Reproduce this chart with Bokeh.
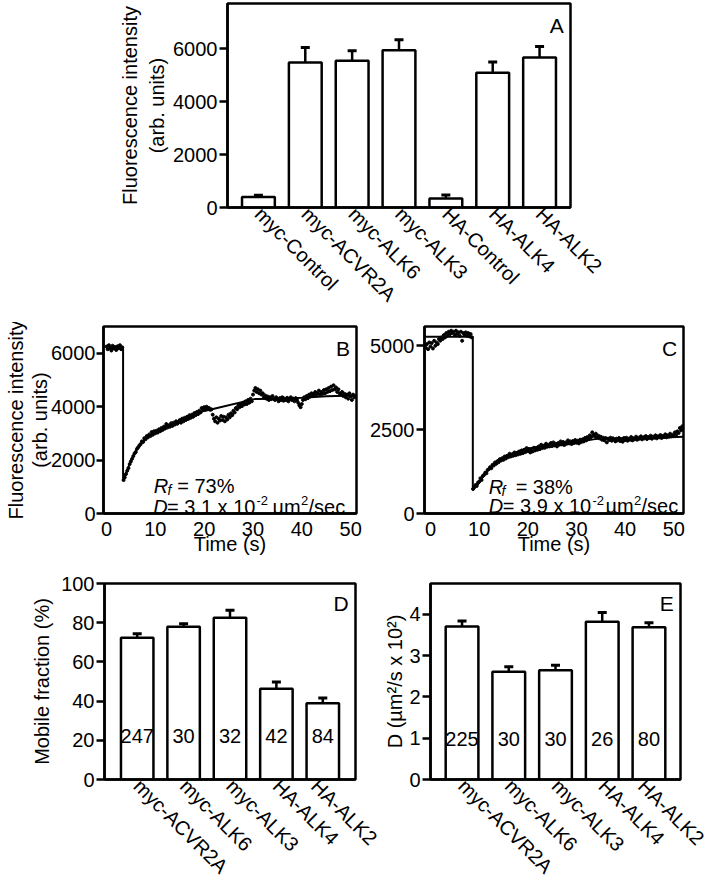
import numpy as np
from bokeh.plotting import figure
from bokeh.models import FactorRange, Range1d, FixedTicker, Label, ColumnDataSource
from bokeh.layouts import column, row
from bokeh.embed import file_html
from bokeh.resources import INLINE

FONT = "Liberation Sans"

# ---------------- Panel A ----------------
a_categories = ["myc-Control", "myc-ACVR2A", "myc-ALK6", "myc-ALK3", "HA-Control", "HA-ALK4", "HA-ALK2"]
a_values = [400, 5470, 5540, 5940, 340, 5090, 5660]
a_errors = [65, 570, 375, 390, 130, 405, 415]
a_yticks = [0, 2000, 4000, 6000]

# ---------------- Panel B (FRAP trace) ----------------
b_start, b_step = 0.0, 0.25
b_values = [
    6250, 6150, 6300, 6200, 6100, 6280, 6180, 6230, 6120, 6260, 6190, 6300, 6150, 6220,
    1250, 1350, 1480, 1600, 1700, 1850, 1950, 2050, 2150, 2250,
    2300, 2420, 2480, 2550, 2600, 2700, 2680, 2820, 2780, 2900, 2850, 2960,
    2900, 3050, 2950, 3080, 3000, 3100, 3030, 3150, 3080, 3200, 3130, 3250,
    3180, 3350, 3220, 3300, 3250, 3380, 3280, 3400, 3330, 3450, 3360, 3420,
    3500, 3400, 3550, 3450, 3580, 3500, 3620, 3540, 3680, 3580, 3700, 3620,
    3760, 3680, 3800, 3720, 3850, 3780, 3950, 3880, 3980, 3900, 4000, 3920,
    3950, 3880, 3900, 3700, 3550, 3450, 3600, 3400, 3550, 3480, 3650, 3500,
    3620, 3450, 3600, 3520, 3700, 3600, 3750, 3680, 3850, 3780, 3950, 3900,
    4050, 3980, 4100, 4020, 4150, 4080, 4200, 4100, 4250, 4150, 4300, 4200,
    4450, 4600, 4700, 4550, 4650, 4500, 4600, 4450, 4500, 4350, 4420, 4300,
    4380, 4250, 4350, 4280, 4400, 4300, 4250, 4350, 4280, 4200, 4320, 4250,
    4350, 4220, 4300, 4250, 4330, 4200, 4280, 4350, 4250, 4300, 4200, 4320,
    4250, 4150, 4050, 3980, 4100, 4250, 4350, 4280, 4400, 4320, 4450, 4380,
    4500, 4400, 4480, 4550, 4420, 4500, 4600, 4450, 4550, 4480, 4620, 4500,
    4650, 4550, 4700, 4580, 4750, 4620, 4800, 4650, 4720, 4550, 4650, 4500,
    4450, 4550, 4400, 4480, 4350, 4450, 4300, 4500, 4380, 4250, 4450, 4350,
    4400,
]
b_fit_time = [0, 3.4, 3.4, 4, 5, 6, 7, 8, 10, 12, 14, 16, 18, 20, 21.6, 30.5, 35, 40, 45, 51.2]
b_fit_values = [6165, 6165, 1230, 1500, 1980, 2350, 2600, 2800, 3060, 3250, 3400, 3550, 3700, 3840,
                3900, 4290, 4300, 4330, 4390, 4420]
b_yticks = [0, 2000, 4000, 6000]
time_ticks = [0, 10, 20, 30, 40, 50]

# ---------------- Panel C (FRAP trace) ----------------
c_start, c_step = -1.0, 0.25
c_values = [
    4950, 5050, 4900, 5100, 4980, 5080, 4920, 5150, 5000, 5100, 5050, 5200, 5150, 5250,
    5200, 5320, 5250, 5380, 5300, 5420, 5350, 5450, 5380, 5420, 5330, 5450, 5350, 5400,
    5300, 5420, 5150, 5380, 5320, 5400, 5300, 5380, 5280, 5350, 5250,
    730, 780, 850, 820, 920, 950, 1050, 1000, 1120, 1150, 1220, 1200,
    1300, 1320, 1380, 1350, 1450, 1430, 1520, 1480, 1560, 1530, 1620, 1580,
    1650, 1600, 1700, 1640, 1720, 1680, 1780, 1700, 1760, 1720, 1820, 1740,
    1800, 1760, 1850, 1780, 1880, 1800, 1900, 1830, 1950, 1860, 1920, 1820,
    1900, 1850, 1960, 1880, 1940, 1900, 2000, 1920, 2050, 1950, 2020, 1960,
    2080, 1990, 2050, 2000, 2100, 2010, 2120, 2030, 2080, 2000, 2100, 2050,
    2150, 2060, 2130, 2040, 2120, 2080, 2180, 2090, 2150, 2070, 2160, 2100,
    2190, 2110, 2170, 2090, 2200, 2130, 2210, 2150, 2250, 2180, 2280, 2220,
    2330, 2280, 2420, 2350, 2300, 2380, 2260, 2320, 2240, 2290, 2200, 2260,
    2180, 2250, 2120, 2230, 2190, 2260, 2170, 2240, 2200, 2150, 2230, 2180,
    2250, 2160, 2220, 2140, 2250, 2190, 2260, 2170, 2230, 2200, 2280, 2180,
    2240, 2210, 2290, 2200, 2260, 2230, 2300, 2210, 2270, 2240, 2310, 2220,
    2280, 2250, 2320, 2230, 2290, 2260, 2330, 2240, 2300, 2270, 2340, 2250,
    2310, 2280, 2360, 2270, 2330, 2290, 2380, 2300, 2350, 2320, 2420, 2350,
    2450, 2400, 2550, 2480, 2600, 2520,
]
c_fit_time = [-1.2, 8.7, 8.7, 9.5, 10, 11, 12, 13, 14, 16, 18, 20, 22, 25, 28, 31, 33.5, 35, 40, 45, 52]
c_fit_values = [5270, 5270, 730, 820, 920, 1150, 1330, 1480, 1600, 1740, 1850, 1930, 1990, 2060,
                2110, 2150, 2210, 2240, 2230, 2250, 2290]
c_yticks = [0, 2500, 5000]

# ---------------- Panels D and E ----------------
de_categories = ["myc-ACVR2A", "myc-ALK6", "myc-ALK3", "HA-ALK4", "HA-ALK2"]
d_values = [72.3, 77.9, 82.5, 46.3, 38.9]
d_errors = [2.0, 1.6, 3.9, 3.5, 2.7]
d_counts = ["247", "30", "32", "42", "84"]
d_yticks = [0, 20, 40, 60, 80, 100]

e_values = [3.71, 2.61, 2.65, 3.82, 3.69]
e_errors = [0.13, 0.12, 0.12, 0.23, 0.11]
e_counts = ["225", "30", "30", "26", "80"]
e_yticks = [0, 1, 2, 3, 4]


def make_fig(width, height, x_range, y_range, left, right, top, bottom):
    p = figure(width=width, height=height, x_range=x_range, y_range=y_range,
               output_backend="svg", toolbar_location=None,
               min_border_left=left, min_border_right=right,
               min_border_top=top, min_border_bottom=bottom)
    p.outline_line_color = "black"
    p.outline_line_width = 2.5
    p.outline_line_alpha = 1.0
    p.grid.visible = False
    p.background_fill_color = "white"
    p.border_fill_color = "white"
    for ax in p.axis:
        ax.axis_line_width = 2.5
        ax.axis_line_color = "black"
        ax.major_tick_line_width = 2.5
        ax.major_tick_line_color = "black"
        ax.major_tick_in = 0
        ax.major_tick_out = 8
        ax.minor_tick_line_color = None
        ax.major_label_text_font = FONT
        ax.major_label_text_font_size = "20px"
        ax.major_label_text_color = "black"
        ax.major_label_standoff = 2
        ax.axis_label_text_font = FONT
        ax.axis_label_text_font_size = "20px"
        ax.axis_label_text_font_style = "normal"
        ax.axis_label_text_color = "black"
        ax.axis_label_text_line_height = 1.25
        ax.axis_label_standoff = 0
    return p


def letter(p, x, y, txt):
    p.add_layout(Label(x=x, y=y, text=txt, text_align="right", text_baseline="alphabetic",
                       text_font=FONT, text_font_size="21px", text_color="black"))


def piece(p, x, y, txt, size=20, style="normal"):
    p.add_layout(Label(x=x, y=y, text=txt, text_align="left", text_baseline="alphabetic",
                       text_font=FONT, text_font_size=f"{size}px", text_font_style=style,
                       text_color="black"))


def bar_panel(cats, vals, errs, pad, ymax, yticks, ylabel, width, height, left, right, top, bottom):
    xr = FactorRange(factors=cats, range_padding=pad, range_padding_units="absolute")
    p = make_fig(width, height, xr, Range1d(0, ymax), left, right, top, bottom)
    tops = [v + e for v, e in zip(vals, errs)]
    src = ColumnDataSource(dict(cat=cats, val=vals, top=tops))
    p.segment(x0="cat", y0="val", x1="cat", y1="top", source=src, line_color="black", line_width=2.5)
    p.scatter(x="cat", y="top", source=src, marker="dash", size=9, line_color="black", line_width=3)
    p.vbar(x="cat", top="val", bottom=0, width=0.7, source=src,
           fill_color="white", line_color="black", line_width=2.5)
    p.yaxis.ticker = FixedTicker(ticks=yticks)
    p.yaxis.axis_label = ylabel
    p.xaxis.major_label_orientation = -np.pi / 4
    p.xaxis.major_tick_out = 0
    p.xaxis.major_tick_line_color = None
    p.xaxis.major_label_standoff = 3
    return p


# Panel A
pA = bar_panel(a_categories, a_values, a_errors, 0.16, 7700, a_yticks,
               "Fluorescence intensity\n(arb. units)", 708, 322, 227, 138, 3, 115)
pA.yaxis.axis_label_standoff = 2
letter(pA, 7.017, 6870, "A")

# Panel B
b_time = b_start + b_step * np.arange(len(b_values))
pB = make_fig(362, 250, Range1d(-0.61, 51.2), Range1d(0, 7000), 103, 6, 4, 59)
pB.scatter(b_time, b_values, size=3, color="black")
pB.line(b_fit_time, b_fit_values, line_width=2, color="black")
pB.yaxis.ticker = FixedTicker(ticks=b_yticks)
pB.xaxis.ticker = FixedTicker(ticks=time_ticks)
pB.yaxis.axis_label = "Fluorescence intensity\n(arb. units)"
pB.yaxis.axis_label_text_line_height = 1.1
pB.yaxis.axis_label_standoff = -3
pB.yaxis.major_label_standoff = 1
pB.yaxis.major_tick_out = 7
pB.xaxis.axis_label = "Time (s)"
pB.xaxis.major_tick_out = 0
pB.xaxis.major_label_standoff = 8
pB.xaxis.axis_label_standoff = -6
letter(pB, 49.86, 6177, "B")
piece(pB, 9.69, 1048, "R", 20, "italic")
piece(pB, 12.50, 861, "f", 14, "italic")
piece(pB, 14.48, 1048, "= 73%")
piece(pB, 9.57, 262, "D", 20, "italic")
piece(pB, 12.39, 262, "= 3.1 x 10")
piece(pB, 30.72, 487, "-2", 13)
piece(pB, 34.0, 262, "µm")
piece(pB, 39.84, 487, "2", 13)
piece(pB, 41.37, 262, "/sec")

# Panel C
c_time = c_start + c_step * np.arange(len(c_values))
pC = make_fig(346, 250, Range1d(-1.23, 52.0), Range1d(0, 5575), 62, 25, 4, 59)
pC.scatter(c_time, c_values, size=3, color="black")
pC.line(c_fit_time, c_fit_values, line_width=2, color="black")
pC.yaxis.ticker = FixedTicker(ticks=c_yticks)
pC.xaxis.ticker = FixedTicker(ticks=time_ticks)
pC.xaxis.axis_label = "Time (s)"
pC.xaxis.major_tick_out = 0
pC.xaxis.major_label_standoff = 8
pC.xaxis.axis_label_standoff = -6
letter(pC, 50.7, 4910, "C")
piece(pC, 11.98, 784, "R", 20, "italic")
piece(pC, 14.60, 656, "f", 14, "italic")
piece(pC, 17.50, 784, "= 38%")
piece(pC, 11.98, 209, "D", 20, "italic")
piece(pC, 14.86, 209, "= 3.9 x 10")
piece(pC, 33.30, 388, "-2", 13)
piece(pC, 35.97, 209, "µm")
piece(pC, 41.82, 388, "2", 13)
piece(pC, 43.37, 209, "/sec")

# Panel D
pD = bar_panel(de_categories, d_values, d_errors, 0.205, 100, d_yticks,
               "Mobile fraction (%)", 381, 316, 104, 26, 11, 104)
pD.yaxis.axis_label_standoff = 5
pD.text(x=de_categories, y=[22] * 5, text=d_counts, text_align="center", text_baseline="middle",
        text_font={"value": FONT}, text_font_size="20px", text_color="black")
letter(pD, 5.06, 90.0, "D")

# Panel E
pE = bar_panel(de_categories, e_values, e_errors, 0.175, 4.75, e_yticks,
               "D (µm²/s x 10²)", 327, 316, 48, 28, 11, 104)
pE.text(x=de_categories, y=[0.98] * 5, text=e_counts, text_align="center", text_baseline="middle",
        text_font={"value": FONT}, text_font_size="20px", text_color="black")
letter(pE, 5.032, 4.277, "E")

layout = column(pA, row(pB, pC), row(pD, pE))

open("out.html", "w").write(file_html(layout, INLINE, title="FRAP"))
